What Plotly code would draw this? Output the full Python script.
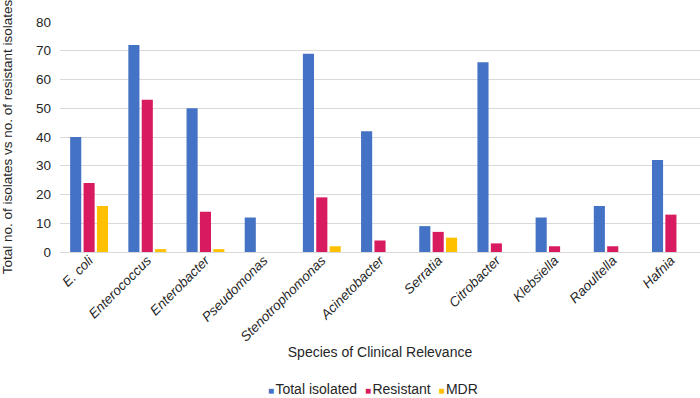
import plotly.graph_objects as go

species = ["E. coli", "Enterococcus", "Enterobacter", "Pseudomonas", "Stenotrophomonas",
           "Acinetobacter", "Serratia", "Citrobacter", "Klebsiella", "Raoultella", "Hafnia"]
total_isolated = [40, 72, 50, 12, 69, 42, 9, 66, 12, 16, 32]
resistant = [24, 53, 14, 0, 19, 4, 7, 3, 2, 2, 13]
mdr = [16, 1, 1, 0, 2, 0, 5, 0, 0, 0, 0]
series_names = ["Total isolated", "Resistant", "MDR"]
series_colors = ["#4472C4", "#D81B60", "#FFC000"]
y_ticks = [0, 10, 20, 30, 40, 50, 60, 70, 80]

font_family = "Liberation Sans, Arial, sans-serif"

fig = go.Figure()
for name, vals, col in zip(series_names, [total_isolated, resistant, mdr], series_colors):
    fig.add_trace(go.Bar(x=species, y=vals, name=name,
                         marker=dict(color=col, line=dict(width=0))))

# legend drawn as text with coloured square glyphs (compact like the reference)
legend_text = "  ".join(
    f'<span style="color:{c}; font-size:10px">■</span><span style="font-size:5px"> </span>{n}'
    for n, c in zip(series_names, series_colors)
)
fig.add_annotation(text=legend_text, xref="paper", yref="paper", x=0.489, y=-0.596,
                   xanchor="center", yanchor="middle", showarrow=False,
                   font=dict(size=14, color="#262626", family=font_family))

fig.update_layout(
    width=700, height=398,
    margin=dict(l=60, r=0, t=22, b=146),
    paper_bgcolor="white", plot_bgcolor="white",
    font=dict(family=font_family, color="#262626", size=13),
    barmode="group", bargap=0.31, bargroupgap=0.17,
    showlegend=False,
    xaxis=dict(
        tickmode="array", tickvals=species,
        ticktext=[f"<i>{s}</i>" for s in species],
        tickangle=-45, tickfont=dict(size=13.5),
        showgrid=False, showline=False, ticks="", automargin=False,
        ticklabelstandoff=-3,
        title=dict(text="Species of Clinical Relevance", font=dict(size=14), standoff=2),
    ),
    yaxis=dict(
        range=[0, 80], tickvals=y_ticks, tickfont=dict(size=13.5),
        showgrid=True, gridcolor="#D9D9D9", gridwidth=1,
        zeroline=True, zerolinecolor="#D9D9D9", zerolinewidth=1,
        showline=False, ticks="", ticklabelstandoff=8, automargin=False,
        title=dict(text="Total no. of isolates vs no. of resistant isolates", font=dict(size=13.5), standoff=20),
    ),
)

fig.write_html("out.html", config={"displayModeBar": False},
               post_script="document.body.style.margin='0';")
